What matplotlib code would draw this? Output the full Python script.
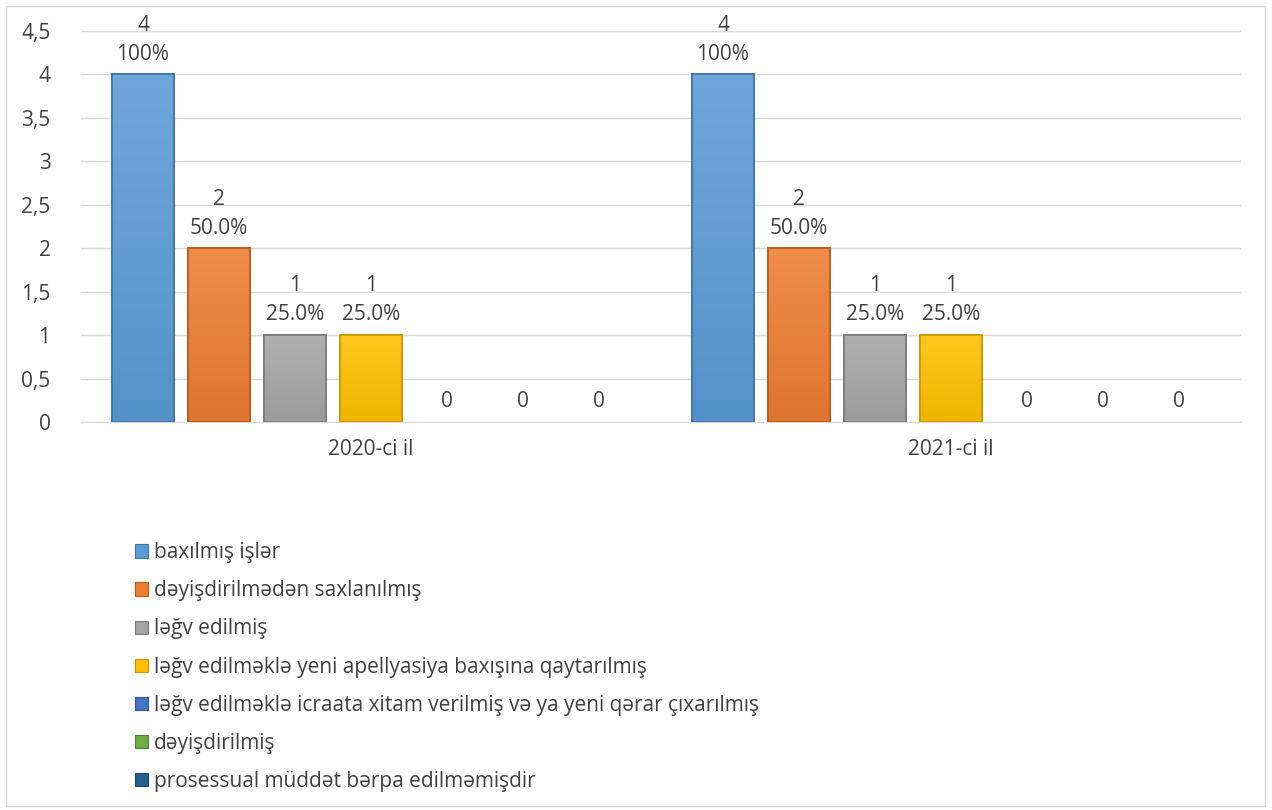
import matplotlib.pyplot as plt
from matplotlib.patches import Rectangle
from matplotlib.colors import to_rgb
import numpy as np

plt.rcParams['font.family'] = ['Open Sans', 'DejaVu Sans']

# data
years = ['2020-ci il', '2021-ci il']
series = ['baxılmış işlər',
          'dəyişdirilmədən saxlanılmış',
          'ləğv edilmiş',
          'ləğv edilməklə yeni apellyasiya baxışına qaytarılmış',
          'ləğv edilməklə icraata xitam verilmiş və ya yeni qərar çıxarılmış',
          'dəyişdirilmiş',
          'prosessual müddət bərpa edilməmişdir']
counts = [[4, 4], [2, 2], [1, 1], [1, 1], [0, 0], [0, 0], [0, 0]]
pcts = [['100%', '100%'], ['50.0%', '50.0%'], ['25.0%', '25.0%'],
        ['25.0%', '25.0%'], ['', ''], ['', ''], ['', '']]
colors = ['#5B9BD5', '#ED7D31', '#A5A5A5', '#FFC000', '#4472C4', '#70AD47', '#255E91']
edges = ['#3C74A8', '#B85A1B', '#7A7A7A', '#C89600', '#2F5597', '#507E32', '#1A4368']

txt = '#404040'
fs = 15
fig = plt.figure(figsize=(12.72, 8.1), dpi=100)
ax = fig.add_axes([81/1272, 1 - 422/810, 1160/1272, 391/810])

step = 76/580
width = 62/580
x = np.arange(len(years))


def shade(c, f):
    r = np.array(to_rgb(c))
    if f > 0:
        return r + (1 - r) * f
    return r * (1 + f)


for i, name in enumerate(series):
    pos = x + (i - 3) * step
    lw = [1.2 if v else 0 for v in counts[i]]
    bars = ax.bar(pos, counts[i], width, color=colors[i], edgecolor=edges[i],
                  linewidth=lw, label=name, zorder=3)
    # soft vertical gradient on each bar, lighter at the top
    for b, v in zip(bars, counts[i]):
        if v == 0:
            continue
        grad = np.linspace(0, 1, 64)[:, None]
        top = shade(colors[i], 0.12)
        bot = shade(colors[i], -0.06)
        img = bot[None, None, :] * (1 - grad[..., None]) + top[None, None, :] * grad[..., None]
        im = ax.imshow(img, extent=[b.get_x(), b.get_x() + width, 0, v],
                       origin='lower', aspect='auto', zorder=3.5)
        im.set_clip_path(b)
        ax.bar(b.get_x() + width / 2, v, width, fill=False, edgecolor=edges[i],
               linewidth=1.2, zorder=4)
    for p, v, pc in zip(pos, counts[i], pcts[i]):
        lab = f'{v}\n{pc}' if pc else f'{v}'
        ax.annotate(lab, (p, v), xytext=(0, 7), textcoords='offset points',
                    ha='center', va='bottom', fontsize=fs, color=txt,
                    linespacing=1.5)

ax.set_xlim(-0.5, 1.5)
ax.set_ylim(0, 4.5)
ax.set_yticks(np.arange(0, 4.51, 0.5))
ax.set_yticklabels(['0', '0,5', '1', '1,5', '2', '2,5', '3', '3,5', '4', '4,5'])
ax.set_xticks(x)
ax.set_xticklabels(years)
ax.tick_params(axis='both', length=0, labelsize=fs, labelcolor=txt)
ax.tick_params(axis='x', pad=12)
ax.tick_params(axis='y', pad=22)
ax.grid(axis='y', color='#D9D9D9', linewidth=1, zorder=0)
for s in ['top', 'right', 'left']:
    ax.spines[s].set_visible(False)
ax.spines['bottom'].set_color('#D9D9D9')

leg = fig.legend(loc='upper left', bbox_to_anchor=(127/1272, 1 - 534/810),
                 frameon=False, fontsize=fs, labelcolor=txt,
                 handlelength=0.6, handleheight=0.6, handletextpad=0.3,
                 labelspacing=0.82, borderaxespad=0)
for h, e in zip(leg.legend_handles, edges):
    h.set_linewidth(0.8)
    h.set_edgecolor(e)

fig.patches.append(Rectangle((6/1272, 4/810), 1259/1272, 800/810,
                             transform=fig.transFigure, fill=False,
                             edgecolor='#D9D9D9', linewidth=1))

fig.savefig('out.png', dpi=100)
